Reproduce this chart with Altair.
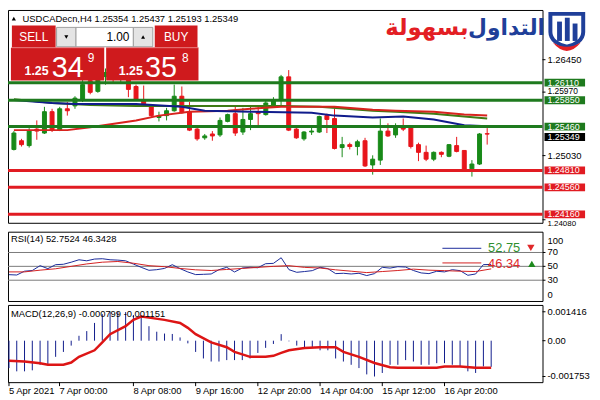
import altair as alt
import pandas as pd

FONT = "Liberation Sans"
GREEN = "#188a18"
RED = "#e8151b"
LGREEN = "#1e7a1e"
LRED = "#e11b22"
NAVY = "#101c8c"

# ---------------- data ----------------
opens = [1.25121, 1.25250, 1.25178, 1.25422, 1.25364, 1.25680, 1.25407, 1.25723, 1.25766, 1.25866,
         1.26140, 1.25981, 1.26200, 1.26250, 1.26180, 1.26200, 1.26053, 1.25838, 1.25752, 1.25594,
         1.25622, 1.25694, 1.25909, 1.25680, 1.25422, 1.25293, 1.25350, 1.25336, 1.25536, 1.25651,
         1.25379, 1.25565, 1.25680, 1.25637, 1.25766, 1.25866, 1.26196, 1.25422, 1.25278, 1.25379,
         1.25379, 1.25622, 1.25579, 1.25149, 1.25192, 1.25164, 1.25250, 1.24891, 1.24963, 1.25393,
         1.25336, 1.25465, 1.25450, 1.25192, 1.25078, 1.24977, 1.25078, 1.25020, 1.25178, 1.25106,
         1.24834, 1.24905, 1.25354]
highs = [1.25393, 1.25278, 1.25436, 1.25551, 1.25752, 1.25723, 1.25752, 1.25823, 1.25909, 1.26167,
         1.26196, 1.26240, 1.26320, 1.26300, 1.26290, 1.26260, 1.26081, 1.26067, 1.25766, 1.25680,
         1.25737, 1.26081, 1.26053, 1.25823, 1.25465, 1.25350, 1.25393, 1.25594, 1.25651, 1.25766,
         1.25737, 1.25766, 1.25766, 1.25838, 1.25895, 1.26225, 1.26296, 1.25465, 1.25393, 1.25465,
         1.25622, 1.25651, 1.25723, 1.25307, 1.25221, 1.25264, 1.25293, 1.25034, 1.25579, 1.25508,
         1.25508, 1.25579, 1.25465, 1.25221, 1.25178, 1.25092, 1.25092, 1.25200, 1.25307, 1.25110,
         1.24963, 1.25364, 1.25437]
lows = [1.25106, 1.25164, 1.25149, 1.25264, 1.25350, 1.25379, 1.25393, 1.25622, 1.25723, 1.25823,
        1.25938, 1.25960, 1.26080, 1.26090, 1.26120, 1.25895, 1.25838, 1.25752, 1.25594, 1.25536,
        1.25551, 1.25680, 1.25651, 1.25393, 1.25250, 1.25264, 1.25250, 1.25307, 1.25522, 1.25321,
        1.25336, 1.25407, 1.25479, 1.25622, 1.25752, 1.25766, 1.25393, 1.25278, 1.25250, 1.25336,
        1.25364, 1.25364, 1.25121, 1.25006, 1.25121, 1.25034, 1.24862, 1.24748, 1.24891, 1.25307,
        1.25293, 1.25393, 1.25135, 1.24948, 1.24948, 1.24948, 1.25006, 1.25006, 1.25078, 1.24815,
        1.24719, 1.24891, 1.25193]
closes = [1.25364, 1.25192, 1.25393, 1.25393, 1.25680, 1.25407, 1.25723, 1.25694, 1.25881, 1.26081,
          1.25967, 1.26180, 1.26260, 1.26180, 1.26230, 1.26010, 1.25866, 1.25780, 1.25622, 1.25622,
          1.25694, 1.25909, 1.25665, 1.25407, 1.25278, 1.25321, 1.25321, 1.25551, 1.25637, 1.25364,
          1.25565, 1.25651, 1.25651, 1.25809, 1.25852, 1.26196, 1.25407, 1.25293, 1.25379, 1.25393,
          1.25608, 1.25565, 1.25135, 1.25192, 1.25164, 1.25235, 1.24877, 1.24977, 1.25393, 1.25321,
          1.25465, 1.25422, 1.25164, 1.25078, 1.24977, 1.25078, 1.25049, 1.25192, 1.25092, 1.24819,
          1.24905, 1.25350, 1.25349]

ma_blue_idx = [0, 5, 8, 16, 22, 25, 31, 39, 42, 47, 51, 55, 59, 62]
ma_blue_val = [1.25852, 1.25809, 1.25795, 1.25795, 1.25752, 1.25694, 1.25680, 1.25665, 1.25622,
               1.25594, 1.25608, 1.25565, 1.25479, 1.25465]
ma_red_idx = [0, 7, 10, 16, 19, 23, 28, 31, 35, 39, 42, 47, 50, 55, 59, 62]
ma_red_val = [1.25407, 1.25407, 1.25450, 1.25551, 1.25622, 1.25680, 1.25694, 1.25723, 1.25752,
              1.25752, 1.25752, 1.25708, 1.25694, 1.25680, 1.25637, 1.25622]
ma_green_idx = [0, 5, 10, 16, 23, 31, 35, 40, 47, 50, 55, 59, 62]
ma_green_val = [1.25866, 1.25809, 1.25780, 1.25766, 1.25766, 1.25766, 1.25766, 1.25752, 1.25694,
                1.25680, 1.25651, 1.25608, 1.25579]

levels_green = [1.26110, 1.25850, 1.25460]
levels_red = [1.24810, 1.24560, 1.24160]
last_price = [1.25349]
price_ticks = [1.26450, 1.25030]
price_tick_between_tags = [1.25970]
price_tick_below_tag = [1.24080]

rsi_main = [38, 37.5, 43, 44, 51, 46.7, 52.4, 53, 56, 59.5,
            58, 60.5, 61, 59.5, 59, 58, 53.3, 48.6, 44.3, 45.2,
            47, 52.4, 46.7, 41.9, 38.1, 38.5, 39, 45.2, 48.6, 41.9,
            47.6, 48.6, 48, 53.8, 54.3, 62.4, 45.2, 41.4, 42.5, 43.8,
            48.6, 46.7, 39.5, 40, 39, 40, 36.7, 39.5, 48.6, 47.5,
            49.5, 49, 44, 40.5, 39.5, 42.9, 42, 45.2, 43.8, 37.1,
            39, 52.5, 52.75]
rsi_sig_idx = [0, 2, 4, 6, 8, 10, 12, 14, 16, 18, 20, 22, 24, 26, 28, 30,
               32, 34, 36, 38, 40, 42, 44, 46, 48, 50, 52, 54, 56, 58, 60, 62]
rsi_sig_val = [42, 42, 44.5, 46.5, 50, 53.5, 56, 57, 54.5, 51, 49.5, 47, 45, 44, 45.5, 47,
               48.5, 50, 51, 48.5, 47.6, 45, 43, 41, 42.5, 44, 46, 44.5, 43.8, 43, 42.5, 46.34]
rsi_levels = [70, 50, 30]
rsi_mid_ticks = [70, 50, 30]
rsi_top_tick = [100]
rsi_bottom_tick = [0]

macd_hist = [-0.00134, -0.00150, -0.00150, -0.00145, -0.00118, -0.00115, -0.00079, -0.00055, -0.00024, 0.00024,
             0.00047, 0.00087, 0.00130, 0.00140, 0.001416, 0.00140, 0.00126, 0.00112, 0.00071, 0.00044,
             0.00035, 0.00033, 0.00016, -0.00013, -0.00055, -0.00087, -0.00102, -0.00102, -0.00095, -0.00095,
             -0.00095, -0.00087, -0.00060, -0.00035, -0.00016, 0.00032, -0.00003, -0.00024, -0.00032, -0.00032,
             -0.00047, -0.00047, -0.00087, -0.00102, -0.00118, -0.00134, -0.00165, -0.001753, -0.00158, -0.00118,
             -0.00118, -0.00095, -0.00102, -0.00118, -0.00118, -0.00110, -0.00110, -0.00118, -0.00126, -0.00150,
             -0.00158, -0.00126, -0.00128]
macd_sig_idx = [0, 2, 4, 5, 7, 8, 9, 11, 12, 13, 15, 16, 17, 18, 20, 22, 23, 24, 26, 28,
                29, 31, 33, 34, 35, 36, 38, 40, 42, 43, 45, 47, 49, 50, 55, 56, 58, 60, 62]
macd_sig_val = [-0.00098, -0.00102, -0.00110, -0.00118, -0.00118, -0.00107, -0.00079, -0.00047, -0.00008, 0.00032,
                0.00071, 0.00102, 0.00118, 0.00113, 0.00102, 0.00087, 0.00063, 0.00032, -0.00008, -0.00032,
                -0.00055, -0.00079, -0.00079, -0.00074, -0.00060, -0.00047, -0.00036, -0.00032, -0.00032, -0.00055,
                -0.00079, -0.00109, -0.00130, -0.00132, -0.00132, -0.00126, -0.00126, -0.00132, -0.00132]
macd_ticks = [0.001416, 0.0, -0.001753]
macd_tick_labels = ["0.001416", "0.00", "-0.001753"]

date_pos = [0, 6.5, 16, 24, 32, 40, 48, 56]
date_labels = ["5 Apr 2021", "7 Apr 00:00", "8 Apr 08:00", "9 Apr 16:00",
               "12 Apr 20:00", "14 Apr 04:00", "15 Apr 12:00", "16 Apr 20:00"]

# ---------------- layout ----------------
W = 540
H_MAIN, H_RSI, H_MACD = 215, 70, 78
XDOM = [-0.125, 68.6]
PDOM = [1.24035, 1.27186]
RDOM = [0, 100]
MDOM = [-0.00203, 0.00175]
TAG_HALF = 0.00058
PAD = {"left": -5, "top": -5, "right": 0, "bottom": 0}


def px(x):
    return (x - 3) * W / 550


def py_main(y):
    return (y - 3) * H_MAIN / 220


def py_rsi(y):
    return (y - 225) * H_RSI / 71


def py_macd(y):
    return (y - 298) * H_MACD / 80


ONE = pd.DataFrame({"k": [0]})


def txt(x, y, s, size=9.5, color="black", align="left", weight="normal", font=FONT, baseline="middle"):
    return alt.Chart(ONE).mark_text(text=s, fontSize=size, color=color, align=align,
                                    baseline=baseline, fontWeight=weight, font=font).encode(
        x=alt.value(x), y=alt.value(y))


def box(x1, y1, x2, y2, fill, stroke="", sw=1):
    kw = dict(fill=fill)
    if stroke:
        kw.update(stroke=stroke, strokeWidth=sw)
    else:
        kw.update(strokeWidth=0)
    return alt.Chart(ONE).mark_rect(**kw).encode(
        x=alt.value(x1), x2=alt.value(x2), y=alt.value(y1), y2=alt.value(y2))


def sym(x, y, shape, size, fill, stroke="", sw=1):
    kw = dict(shape=shape, size=size, filled=True, fill=fill, opacity=1)
    if stroke:
        kw.update(stroke=stroke, strokeWidth=sw)
    else:
        kw.update(strokeWidth=0)
    return alt.Chart(ONE).mark_point(**kw).encode(x=alt.value(x), y=alt.value(y))


def seg(x1, x2, y, color, sw=1):
    return alt.Chart(ONE).mark_rule(color=color, strokeWidth=sw).encode(
        x=alt.value(x1), x2=alt.value(x2), y=alt.value(y))


xs = alt.Scale(domain=XDOM, nice=False, zero=False)
ys = alt.Scale(domain=PDOM, nice=False, zero=False)
rys = alt.Scale(domain=RDOM, nice=False, zero=False)
mys = alt.Scale(domain=MDOM, nice=False, zero=False)


def ylabels(values, scale, labels=None, dy=0, fmt=".5f", size=9.5):
    df = pd.DataFrame({"v": values})
    if labels is None:
        enc_text = alt.Text("v:Q", format=fmt)
    else:
        df["t"] = labels
        enc_text = alt.Text("t:N")
    ticks = alt.Chart(df).mark_rule(color="black", strokeWidth=1).encode(
        x=alt.value(W), x2=alt.value(W + 3), y=alt.Y("v:Q", scale=scale, axis=None))
    texts = alt.Chart(df).mark_text(align="left", baseline="middle", fontSize=size, font=FONT,
                                    color="black", dy=dy).encode(
        x=alt.value(W + 5), y=alt.Y("v:Q", scale=scale, axis=None), text=enc_text)
    return [ticks, texts]


# ---------------- main price panel ----------------
cdf = pd.DataFrame({"idx": list(range(len(opens))), "open": opens, "high": highs,
                    "low": lows, "close": closes})
cdf["up"] = [1 if c > o else 0 for o, c in zip(opens, closes)]


def candles(flag, color):
    base = alt.Chart(cdf).transform_filter(f"datum.up == {flag}")
    wick = base.mark_rule(strokeWidth=1, color=color).encode(
        x=alt.X("idx:Q", scale=xs, axis=None),
        y=alt.Y("low:Q", scale=ys, axis=None), y2="high:Q")
    body = base.mark_bar(size=4, strokeWidth=1, color=color, stroke=color).encode(
        x=alt.X("idx:Q", scale=xs, axis=None),
        y=alt.Y("open:Q", scale=ys, axis=None), y2="close:Q")
    return [wick, body]


def ma_line(idx, val, color):
    return alt.Chart(pd.DataFrame({"idx": idx, "val": val})).mark_line(
        strokeWidth=2, color=color).encode(
        x=alt.X("idx:Q", scale=xs, axis=None), y=alt.Y("val:Q", scale=ys, axis=None))


def level_lines(values, color):
    return alt.Chart(pd.DataFrame({"price": values})).mark_rule(strokeWidth=3, color=color).encode(
        x=alt.value(0), x2=alt.value(W), y=alt.Y("price:Q", scale=ys, axis=None))


def tags(values, color, dy=0):
    df = pd.DataFrame({"price": values})
    df["label"] = [f"{p:.5f}" for p in values]
    rect = alt.Chart(df).transform_calculate(
        lo=f"datum.price - {TAG_HALF}", hi=f"datum.price + {TAG_HALF}").mark_rect(
        strokeWidth=0, color=color, yOffset=dy, y2Offset=dy).encode(
        x=alt.value(W + 2), x2=alt.value(W + 43),
        y=alt.Y("lo:Q", scale=ys, axis=None), y2="hi:Q")
    text = alt.Chart(df).mark_text(align="left", baseline="middle", fontSize=9, font=FONT,
                                   color="white", dy=dy).encode(
        x=alt.value(W + 5), y=alt.Y("price:Q", scale=ys, axis=None), text="label:N")
    return [rect, text]


PANEL_RED = "#cf1a1d"
deco_main = [
    # header
    sym(px(9), py_main(12), "triangle-up", 18, "black"),
    txt(px(18), py_main(12), "USDCADecn,H4 1.25354 1.25437 1.25193 1.25349", size=9.5),
    # one-click trading panel
    box(px(6), py_main(42), px(102), py_main(76), PANEL_RED),
    box(px(104), py_main(42), px(199), py_main(76), PANEL_RED),
    box(px(7), py_main(19), px(52), py_main(42), PANEL_RED),
    box(px(154), py_main(19), px(198), py_main(42), PANEL_RED),
    box(px(53), py_main(21), px(73), py_main(41), "#e4e4e4", "#a0a0a0"),
    box(px(73), py_main(21), px(132), py_main(41), "white", "#a0a0a0"),
    box(px(132), py_main(21), px(152), py_main(41), "#e4e4e4", "#a0a0a0"),
    seg(px(7), px(102), py_main(42), "#e8787a", 1),
    seg(px(104), px(199), py_main(42), "#e8787a", 1),
    txt(px(29.5), py_main(31), "SELL", size=12, color="white", align="center"),
    txt(px(176), py_main(31), "BUY", size=12, color="white", align="center"),
    sym(px(63), py_main(31), "triangle-down", 16, "black"),
    sym(px(142), py_main(31), "triangle-up", 16, "black"),
    txt(px(128), py_main(31), "1.00", size=12, color="black", align="right"),
    txt(px(20), py_main(70), "1.25", size=12.5, color="white", weight="bold", baseline="alphabetic"),
    txt(px(48), py_main(72), "34", size=29, color="white", baseline="alphabetic"),
    txt(px(85), py_main(57), "9", size=12, color="white", baseline="alphabetic"),
    txt(px(117), py_main(70), "1.25", size=12.5, color="white", weight="bold", baseline="alphabetic"),
    txt(px(144), py_main(72), "35", size=29, color="white", baseline="alphabetic"),
    txt(px(182), py_main(57), "8", size=12, color="white", baseline="alphabetic"),
    # logo
    txt(px(516), py_main(22), "التداول", size=22, color="#1f3f99", align="center",
        weight="bold", font="DejaVu Sans"),
    txt(px(434), py_main(22), "بسهولة", size=23, color="#e31e24", align="center",
        weight="bold", font="DejaVu Sans"),
    sym(px(578), py_main(24), "M-1,-1 L1,-1 L1,0.1 C1,0.6 0.5,0.9 0,1 C-0.5,0.9 -1,0.6 -1,0.1 Z",
        1100, "white", "#1f3f99", 4),
    box(px(568), py_main(15), px(573), py_main(35), "#1f3f99"),
    box(px(576), py_main(11), px(581), py_main(35), "#1f3f99"),
    box(px(584), py_main(17), px(589), py_main(35), "#1f3f99"),
    sym(px(578), py_main(41), "M-1,-0.3 Q0,0.9 1,-0.3 Q0,0.3 -1,-0.3 Z", 800, "#e31e24"),
]

main_layers = (candles(1, GREEN) + candles(0, RED)
               + [ma_line(ma_green_idx, ma_green_val, "#3f7a14"),
                  ma_line(ma_red_idx, ma_red_val, "#d8231e"),
                  ma_line(ma_blue_idx, ma_blue_val, NAVY),
                  level_lines(levels_green, LGREEN),
                  level_lines(levels_red, LRED)]
               + ylabels(price_ticks, ys)
               + ylabels(price_tick_between_tags, ys, dy=-0.7, size=8.5)
               + ylabels(price_tick_below_tag, ys, dy=4, size=8)
               + tags(levels_green, LGREEN) + tags(last_price, "#000000", dy=3)
               + tags(levels_red, LRED)
               + deco_main)
main = alt.layer(*main_layers).properties(width=W, height=H_MAIN)

# ---------------- RSI panel ----------------
rlev = alt.Chart(pd.DataFrame({"v": rsi_levels})).mark_rule(color="#7a7a7a", strokeWidth=1).encode(
    x=alt.value(0), x2=alt.value(W), y=alt.Y("v:Q", scale=rys, axis=None))


def rsi_line(idx, val, color):
    return alt.Chart(pd.DataFrame({"idx": idx, "v": val})).mark_line(
        strokeWidth=1, color=color).encode(
        x=alt.X("idx:Q", scale=xs, axis=None), y=alt.Y("v:Q", scale=rys, axis=None))


def rsi_labels(values, dy):
    df = pd.DataFrame({"v": values})
    return alt.Chart(df).mark_text(align="left", baseline="middle", fontSize=9.5, font=FONT,
                                   color="black", dy=dy).encode(
        x=alt.value(W + 5), y=alt.Y("v:Q", scale=rys, axis=None), text=alt.Text("v:Q", format="d"))


rsi_tick_marks = alt.Chart(pd.DataFrame({"v": rsi_mid_ticks})).mark_rule(color="black").encode(
    x=alt.value(W), x2=alt.value(W + 3), y=alt.Y("v:Q", scale=rys, axis=None))

deco_rsi = [
    txt(px(6), py_rsi(233), "RSI(14) 52.7524 46.3428", size=9.5),
    seg(px(450), px(490), py_rsi(242), "#1a2a9a", 1),
    seg(px(450), px(490), py_rsi(257), "#d32020", 1),
    txt(px(497), py_rsi(241.5), "52.75", size=13, color="#2f8f2f"),
    txt(px(497), py_rsi(258), "46.34", size=13, color="#e0282a"),
    sym(px(541), py_rsi(241.5), "triangle-down", 55, "#e0282a"),
    sym(px(542), py_rsi(258), "triangle-up", 55, "#1e8a1e"),
]
rsi = alt.layer(rlev, rsi_line(list(range(len(rsi_main))), rsi_main, "#1a2a9a"),
                rsi_line(rsi_sig_idx, rsi_sig_val, "#d32020"),
                rsi_tick_marks,
                rsi_labels(rsi_mid_ticks, 0), rsi_labels(rsi_top_tick, 9.5),
                rsi_labels(rsi_bottom_tick, -6),
                *deco_rsi).properties(width=W, height=H_RSI)

# ---------------- MACD panel ----------------
mdf = pd.DataFrame({"idx": list(range(len(macd_hist))), "v": macd_hist})
mhist = alt.Chart(mdf).transform_calculate(zero="0").mark_rule(color=NAVY, strokeWidth=1).encode(
    x=alt.X("idx:Q", scale=xs, axis=None),
    y=alt.Y("zero:Q", scale=mys, axis=None), y2="v:Q")
msig = alt.Chart(pd.DataFrame({"idx": macd_sig_idx, "v": macd_sig_val})).mark_line(
    color="#dd1515", strokeWidth=2.5).encode(
    x=alt.X("idx:Q", scale=xs, axis=None),
    y=alt.Y("v:Q", scale=mys, axis=None))

ddf = pd.DataFrame({"p": date_pos, "t": date_labels})
xticks = alt.Chart(ddf).mark_rule(color="black").encode(
    x=alt.X("p:Q", scale=xs, axis=None), y=alt.value(H_MACD), y2=alt.value(H_MACD + 4))
xlabels = alt.Chart(ddf).mark_text(align="left", baseline="top", fontSize=9.5, font=FONT,
                                   color="black").encode(
    x=alt.X("p:Q", scale=xs, axis=None), y=alt.value(H_MACD + 4), text="t:N")

deco_macd = [txt(px(6), py_macd(307.5), "MACD(12,26,9) -0.000799 -0.001151", size=9.5)]
macd = alt.layer(mhist, msig, *ylabels(macd_ticks, mys, macd_tick_labels), xticks, xlabels,
                 *deco_macd).properties(width=W, height=H_MACD)

chart = alt.vconcat(main, rsi, macd, spacing=2, padding=PAD, background="white").configure(
    padding=PAD).configure_view(stroke="black", strokeWidth=1)

chart.save("out.html", embed_options={"renderer": "svg", "actions": False})
